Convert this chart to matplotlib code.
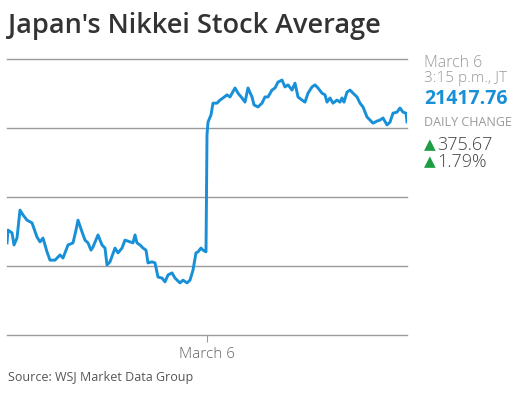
import matplotlib
matplotlib.use("Agg")
import matplotlib.pyplot as plt

plt.rcParams['font.family'] = ['Open Sans', 'DejaVu Sans']

# time steps across two sessions (0 = March 5 open, 200 = March 6 open, 400 = close)
steps = [0, 1, 5, 7, 10, 13, 16, 20, 25, 30, 33, 36, 40, 43, 48, 53, 56, 61, 66, 69,
         71, 75, 78, 81, 84, 86, 91, 95, 98, 100, 103, 108, 111, 115, 118, 123, 126,
         128, 130, 133, 136, 139, 141, 145, 148, 151, 155, 158, 161, 165, 168, 173,
         176, 180, 183, 186, 189, 191, 194, 196, 199,
         200, 201, 204, 206, 210, 213, 216, 220, 223, 228, 231, 235, 238, 241, 245,
         247, 251, 255, 258, 261, 265, 268, 271, 275, 278, 281, 285, 288, 291, 295,
         298, 301, 305, 308, 311, 315, 318, 320, 323, 326, 330, 333, 335, 337, 340,
         343, 346, 350, 353, 356, 360, 363, 366, 370, 373, 376, 380, 383, 386, 390,
         393, 396, 399, 400]
nikkei = [21067, 21104, 21096, 21061, 21081, 21162, 21148, 21133, 21125, 21084, 21070,
          21081, 21041, 21017, 21017, 21032, 21023, 21061, 21067, 21104, 21133, 21099,
          21075, 21067, 21046, 21055, 21090, 21061, 21052, 21003, 21012, 21052, 21038,
          21052, 21075, 21070, 21067, 21090, 21067, 21061, 21052, 21046, 21009, 21012,
          21009, 20968, 20965, 20954, 20974, 20980, 20965, 20951, 20959, 20951, 20959,
          20988, 21038, 21041, 21052, 21046, 21041,
          21380, 21417, 21438, 21472, 21472, 21481, 21487, 21496, 21490, 21516, 21501,
          21487, 21475, 21516, 21490, 21467, 21461, 21472, 21490, 21490, 21510, 21516,
          21533, 21539, 21519, 21525, 21510, 21530, 21490, 21481, 21475, 21501, 21519,
          21525, 21516, 21501, 21496, 21475, 21487, 21472, 21481, 21475, 21487, 21475,
          21504, 21510, 21501, 21490, 21472, 21461, 21432, 21423, 21414, 21420, 21423,
          21429, 21409, 21417, 21443, 21446, 21458, 21446, 21443, 21417.76]
grid_levels = [20800, 21000, 21200, 21400, 21600]
tick_pos = [200]
tick_labels = ['March 6']

blue = '#1790d8'

fig = plt.figure(figsize=(5.31, 3.93), dpi=100)
ax = fig.add_axes([7 / 531, 58 / 393, 400 / 531, 276 / 393])

for g in grid_levels:
    ax.axhline(g, color='#9a9a9a', lw=1.0, zorder=1, clip_on=False)
ax.plot(steps, nikkei, color=blue, lw=2.1, zorder=3, solid_joinstyle='round')

ax.set_xlim(0, 400)
ax.set_ylim(grid_levels[0], grid_levels[-1])
for s in ax.spines.values():
    s.set_visible(False)
ax.set_yticks([])
ax.set_xticks(tick_pos)
ax.set_xticklabels(tick_labels, fontsize=11, color='#666666', fontweight='light')
ax.tick_params(axis='x', length=5, width=0.8, color='#9a9a9a', pad=4)

fig.text(8 / 531, 1 - 26 / 393, "Japan's Nikkei Stock Average", fontsize=19.5,
         fontweight='semibold', color='#333333', va='center', ha='left')

x0 = 424 / 531
fig.text(x0, 1 - 63 / 393, 'March 6', fontsize=11.5, color='#999999',
         fontweight='light', va='center')
fig.text(x0, 1 - 79 / 393, '3:15 p.m., JT', fontsize=11, color='#999999',
         fontweight='light', va='center')
fig.text(x0, 1 - 99 / 393, '21417.76', fontsize=14, color=blue,
         fontweight='bold', va='center')
fig.text(x0, 1 - 123 / 393, 'DAILY CHANGE', fontsize=9, color='#999999',
         va='center')
for yy, val in [(145, '375.67'), (162, '1.79%')]:
    fig.text(x0, 1 - yy / 393, '\u25b2', fontsize=11, color='#1e9e44',
             va='center', family=['DejaVu Sans'])
    fig.text(x0 + 13 / 531, 1 - yy / 393, val, fontsize=13, color='#444444',
             fontweight='light', va='center')

fig.text(8 / 531, 1 - 377 / 393, 'Source: WSJ Market Data Group', fontsize=9,
         color='#555555', va='center')

fig.savefig('out.png', dpi=100, facecolor='white')
